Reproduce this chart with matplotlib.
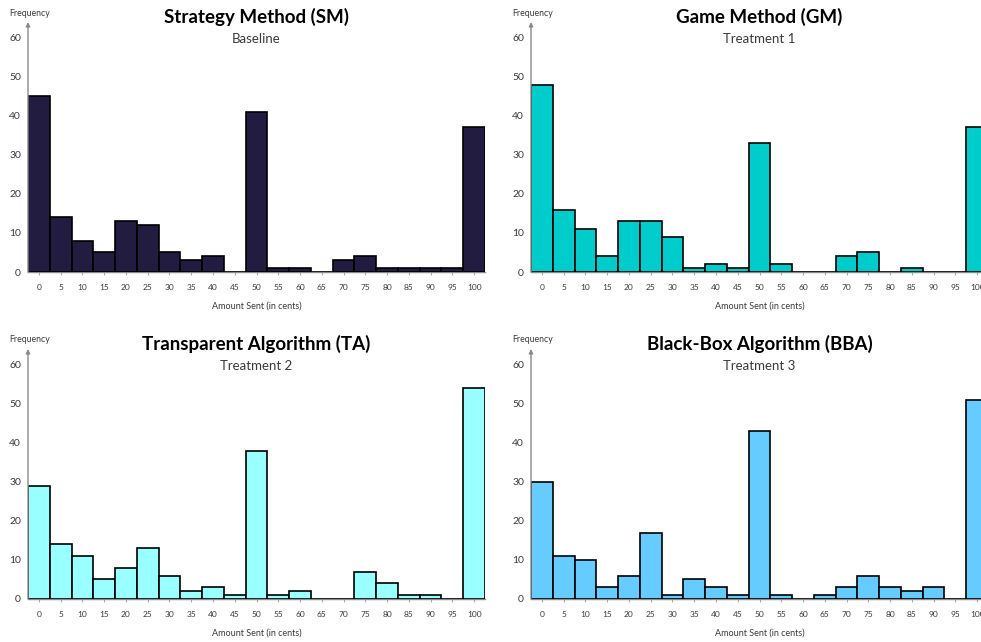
import numpy as np
import matplotlib
matplotlib.use("Agg")
import matplotlib.pyplot as plt

plt.rcParams['font.family'] = ['Lato', 'DejaVu Sans']

amounts = list(range(0, 101, 5))
tick_labels = [str(a) for a in amounts]

sm_counts = [45, 14, 8, 5, 13, 12, 5, 3, 4, 0, 41, 1, 1, 0, 3, 4, 1, 1, 1, 1, 37]
gm_counts = [48, 16, 11, 4, 13, 13, 9, 1, 2, 1, 33, 2, 0, 0, 4, 5, 0, 1, 0, 0, 37]
ta_counts = [29, 14, 11, 5, 8, 13, 6, 2, 3, 1, 38, 1, 2, 0, 0, 7, 4, 1, 1, 0, 54]
bba_counts = [30, 11, 10, 3, 6, 17, 1, 5, 3, 1, 43, 1, 0, 1, 3, 6, 3, 2, 3, 0, 51]

titles = ['Strategy Method (SM)', 'Game Method (GM)',
          'Transparent Algorithm (TA)', 'Black-Box Algorithm (BBA)']
subtitles = ['Baseline', 'Treatment 1', 'Treatment 2', 'Treatment 3']
colors = ['#221c40', '#00cccc', '#99ffff', '#66ccff']
counts = [sm_counts, gm_counts, ta_counts, bba_counts]

fig = plt.figure(figsize=(9.81, 6.42), dpi=100)
W, H = 981, 642

# axes boxes in pixels: left, top, width, height
boxes = [(28, 22, 457, 250), (531, 22, 457, 250),
         (28, 349, 457, 250), (531, 349, 457, 250)]

axis_gray = '#8a8a8a'
text_gray = '#3a3a3a'

for box, vals, col, title, sub in zip(boxes, counts, colors, titles, subtitles):
    l, t, w, h = box
    ax = fig.add_axes([l / W, 1 - (t + h) / H, w / W, h / H])
    ax.bar(amounts, vals, width=5, color=col, edgecolor='black', linewidth=1.2, zorder=3)
    ax.set_xlim(-2.5, 102.5)
    ax.set_ylim(0, 64)
    ax.set_yticks([0, 10, 20, 30, 40, 50, 60])
    ax.set_xticks(amounts)
    ax.set_xticklabels(tick_labels)
    ax.tick_params(axis='y', length=0, pad=5, labelsize=7.5, labelcolor=text_gray)
    ax.tick_params(axis='x', length=2.5, width=0.8, color='#aaaaaa', pad=6,
                   labelsize=6, labelcolor=text_gray)
    for s in ['top', 'right', 'left']:
        ax.spines[s].set_visible(False)
    ax.spines['bottom'].set_color(axis_gray)
    ax.spines['bottom'].set_linewidth(1.0)
    ax.set_facecolor('none')

    # vertical axis with arrowhead
    ax.annotate('', xy=(0, 1.0), xytext=(0, 0), xycoords='axes fraction',
                arrowprops=dict(arrowstyle='-|>', color=axis_gray, lw=1.0,
                                mutation_scale=6, shrinkA=0, shrinkB=0),
                annotation_clip=False)

    ax.text(0.5, 1.02, title, transform=ax.transAxes, ha='center', va='center',
            fontsize=13.5, fontweight='bold', color='black')
    ax.text(0.5, 0.932, sub, transform=ax.transAxes, ha='center', va='center',
            fontsize=9.5, color=text_gray)
    ax.text(0.004, 1.036, 'Frequency', transform=ax.transAxes, ha='center', va='center',
            fontsize=6.3, color=text_gray)
    ax.text(0.5, -0.138, 'Amount Sent (in cents)', transform=ax.transAxes,
            ha='center', va='center', fontsize=6.5, color=text_gray)

fig.savefig('out.png', dpi=100)
